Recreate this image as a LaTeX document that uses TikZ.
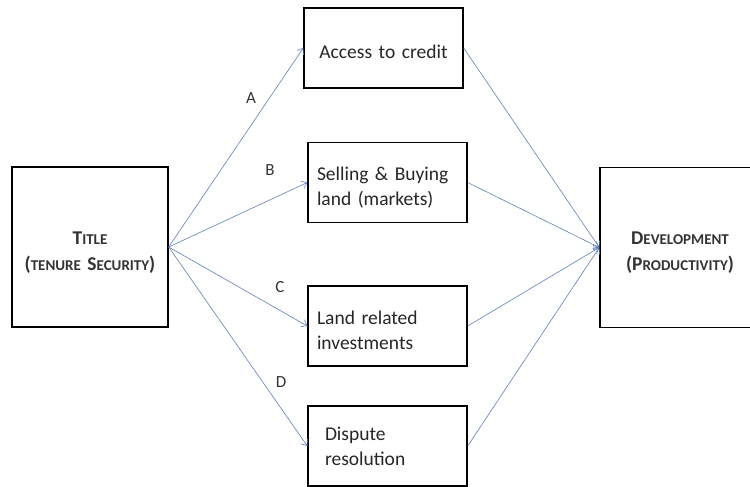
\documentclass[tikz,border=0pt]{standalone}
\usepackage{fontspec}
\setmainfont{Carlito}
\usetikzlibrary{positioning, arrows.meta}
\definecolor{linkblue}{RGB}{95,128,182}
\newcommand{\fakesc}[2]{#1{\fontsize{15}{26}\selectfont #2}}

\begin{document}
\begin{tikzpicture}[
    x=1pt, y=-1pt,
    >={Straight Barb[length=5pt,width=8pt]},
    on grid,
    box/.style={draw, line width=1.4pt, minimum width=159pt, minimum height=80pt, font=\fontsize{19.5}{25}\selectfont, text=black!85, inner xsep=9pt, text width=141pt, align=left},
    bigbox/.style={draw, line width=1.4pt, minimum width=156pt, minimum height=160pt, text width=140pt, align=center, font=\bfseries\fontsize{19.5}{26}\selectfont, text=black!80},
    sunk/.style={execute at begin node={\rule{0pt}{#1}}},
    link/.style={->, linkblue, line width=0.6pt},
    letter/.style={font=\fontsize{17}{18}\selectfont, text=black!80}
]
\useasboundingbox (0,0) rectangle (750,487);

% -------------------------
% SIDE BOXES
% -------------------------
\node[bigbox, sunk=23pt] (Title) at (90,247) {\fakesc{T}{ITLE}\\(\fakesc{}{TENURE} \fakesc{S}{ECURITY})};
\node[bigbox, sunk=23pt, minimum width=160pt] (Dev) at (680,247.5) {\fakesc{D}{EVELOPMENT}\\(\fakesc{P}{RODUCTIVITY})};

% -------------------------
% CHANNELS
% -------------------------
\node[box, sunk=21pt, align=center] (Credit) at (383.5,48) {Access to credit};
\node[box, sunk=23pt] (Market) [below=134.5pt of Credit, xshift=4pt] {Selling~\&~Buying\\land (markets)};
\node[box, sunk=23pt] (Invest) [below=143.5pt of Market] {Land related\\investments};
\node[box, inner xsep=17pt, text width=125pt] (Dispute) [below=120pt of Invest] {Dispute\\resolution};

% letters on the links
\node[letter] (LabelA) at (251,98) {A};
\node[letter] (LabelB) at (270,170) {B};
\node[letter] (LabelC) at (280,287) {C};
\node[letter] (LabelD) at (281,382) {D};

% -------------------------
% LINKS
% -------------------------
\foreach \n in {Credit, Market, Invest, Dispute} {
    \draw[link] (Title.east) -- (\n.west);
    \draw[link] (\n.east) -- (Dev.west);
}

\end{tikzpicture}
\end{document}
